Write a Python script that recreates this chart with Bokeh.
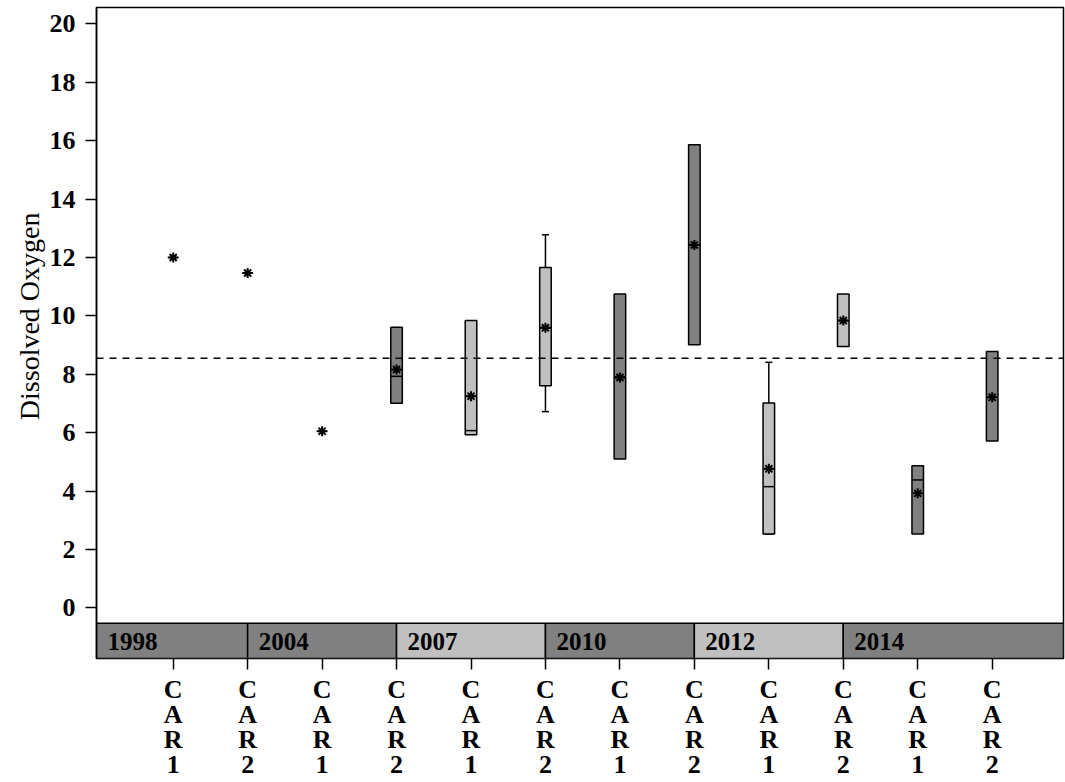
import math
from bokeh.plotting import figure
from bokeh.models import FixedTicker, ColumnDataSource, Range1d, Span, Title
from bokeh.core.properties import value
from bokeh.embed import file_html
from bokeh.resources import INLINE

nan = float("nan")

# ---- data ----
years = ["1998", "1998", "2004", "2004", "2007", "2007",
         "2010", "2010", "2012", "2012", "2014", "2014"]
sites = ["CAR1", "CAR2"] * 6
q1 = [nan, nan, nan, 7.01, 5.93, 7.61, 5.10, 9.01, 2.53, 8.95, 2.53, 5.71]
q3 = [nan, nan, nan, 9.61, 9.84, 11.66, 10.75, 15.86, 7.02, 10.75, 4.87, 8.78]
medians = [nan, nan, nan, 7.93, 6.07, 9.60, 7.90, 12.43, 4.15, 9.84, 4.38, 7.21]
means = [12.0, 11.47, 6.05, 8.16, 7.25, 9.59, 7.89, 12.43, 4.76, 9.84, 3.92, 7.21]
whisker_lo = [nan, nan, nan, nan, nan, 6.72, nan, nan, 2.53, nan, nan, nan]
whisker_hi = [nan, nan, nan, nan, nan, 12.78, nan, nan, 8.41, nan, nan, nan]
reference_level = 8.55
light_years = ["2007", "2012"]
y_ticks = list(range(0, 21, 2))
y_label = "Dissolved Oxygen"

DARK = "#808080"
LIGHT = "#c0c0c0"
FONT = "Liberation Serif"

n = len(years)
xs = list(range(n))
fills = [LIGHT if y in light_years else DARK for y in years]

x_start, x_end = -1.03, 11.958
y_start, y_end = -1.737, 20.565
band_top = -0.53

p = figure(width=1065, height=782, output_backend="svg", toolbar_location=None,
           x_range=Range1d(x_start, x_end), y_range=Range1d(y_start, y_end),
           min_border_left=96, min_border_right=2, min_border_top=7,
           min_border_bottom=124)
p.xgrid.visible = False
p.ygrid.visible = False
p.outline_line_color = "black"
p.outline_line_width = 1.5
p.background_fill_color = "white"
p.border_fill_color = "white"

# reference line
p.add_layout(Span(location=reference_level, dimension="width", line_color="black",
                  line_dash="7 6", line_width=1.5))

# whiskers
wx, wlo, whi = [], [], []
for i in xs:
    if not math.isnan(whisker_hi[i]):
        wx.append(i); wlo.append(whisker_lo[i] if not math.isnan(whisker_lo[i]) else q1[i]); whi.append(whisker_hi[i])
p.segment(x0=wx, x1=wx, y0=whi, y1=[q3[i] for i in wx], line_color="black", line_width=1.5)
p.segment(x0=wx, x1=wx, y0=wlo, y1=[q1[i] for i in wx], line_color="black", line_width=1.5)
cap = 0.095
p.segment(x0=[x - cap / 2 for x in wx], x1=[x + cap / 2 for x in wx], y0=whi, y1=whi,
          line_color="black", line_width=1.5)
lo_caps = [i for i in wx if not math.isnan(whisker_lo[i])]
p.segment(x0=[x - cap / 2 for x in lo_caps], x1=[x + cap / 2 for x in lo_caps],
          y0=[whisker_lo[i] for i in lo_caps], y1=[whisker_lo[i] for i in lo_caps],
          line_color="black", line_width=1.5)

# boxes
bi = [i for i in xs if not math.isnan(q1[i])]
box_src = ColumnDataSource(dict(x=bi, bottom=[q1[i] for i in bi], top=[q3[i] for i in bi],
                                fill=[fills[i] for i in bi]))
bw = 0.155
p.vbar(x="x", width=bw, bottom="bottom", top="top", fill_color="fill",
       line_color="black", line_width=1.5, source=box_src)
p.segment(x0=[i - bw / 2 for i in bi], x1=[i + bw / 2 for i in bi],
          y0=[medians[i] for i in bi], y1=[medians[i] for i in bi],
          line_color="black", line_width=1.5)

# means
p.scatter(xs, means, marker="asterisk", size=10, line_color="black", line_width=2)
p.scatter(xs, means, marker="dash", size=11, line_color="black", line_width=1.5)

# year bands
band_years, band_first = [], []
for i, y in enumerate(years):
    if y not in band_years:
        band_years.append(y); band_first.append(i)
left = [max(f - 1, x_start) if k > 0 else x_start for k, f in enumerate(band_first)]
right = left[1:] + [x_end]
band_src = ColumnDataSource(dict(left=left, right=right, year=band_years,
                                 fill=[LIGHT if y in light_years else DARK for y in band_years]))
p.quad(left="left", right="right", bottom=y_start, top=band_top, fill_color="fill",
       line_color="black", line_width=1.5, source=band_src)
p.text(x="left", y=(y_start + band_top) / 2, text="year", source=band_src,
       text_font=value(FONT), text_font_style="bold", text_font_size="25px",
       text_align="left", text_baseline="middle", x_offset=11, y_offset=1,
       text_color="black")

# axes
p.yaxis.ticker = FixedTicker(ticks=y_ticks)
p.yaxis.major_label_text_font = FONT
p.yaxis.major_label_text_font_style = "bold"
p.yaxis.major_label_text_font_size = "26px"
p.yaxis.major_label_text_color = "black"
p.yaxis.major_label_standoff = 10
p.yaxis.major_tick_in = 0
p.yaxis.major_tick_out = 11
p.yaxis.major_tick_line_width = 1.5
p.yaxis.minor_tick_line_color = None
p.yaxis.axis_line_width = 1.5

p.add_layout(Title(text=y_label, align="right", offset=205, text_font=FONT,
                   text_font_style="normal", text_font_size="28px", text_color="black",
                   standoff=4), "left")

p.xaxis.ticker = FixedTicker(ticks=xs)
p.xaxis.major_label_overrides = {i: "\n".join(list(sites[i])) for i in xs}
p.xaxis.major_label_text_font = FONT
p.xaxis.major_label_text_font_style = "bold"
p.xaxis.major_label_text_font_size = "26px"
p.xaxis.major_label_text_color = "black"
p.xaxis.major_label_text_line_height = 0.87
p.xaxis.major_label_standoff = 5
p.xaxis.major_tick_in = 0
p.xaxis.major_tick_out = 11
p.xaxis.major_tick_line_width = 1.5
p.xaxis.minor_tick_line_color = None
p.xaxis.axis_line_color = None

open("out.html", "w").write(file_html(p, INLINE))
